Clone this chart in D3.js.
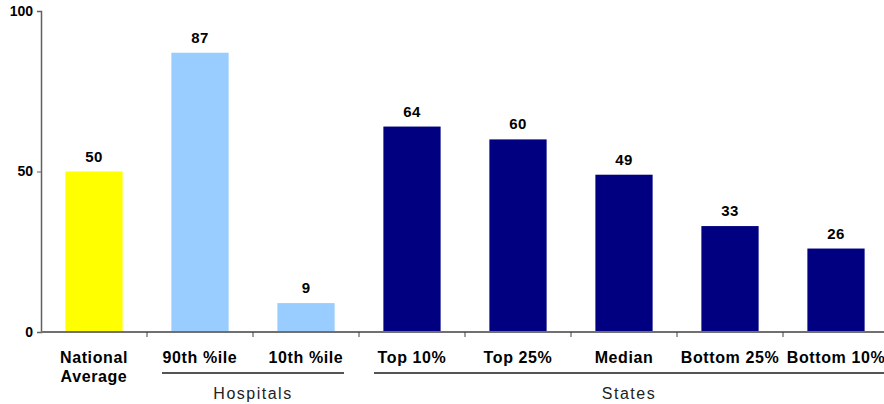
<!DOCTYPE html>
<html>
<head>
<meta charset="utf-8">
<script src="https://cdn.jsdelivr.net/npm/d3@7"></script>
<style>
  html, body { margin: 0; padding: 0; background: #fff; }
  svg { display: block; font-family: "Liberation Sans", Arial, sans-serif; }
</style>
</head>
<body>
<svg id="chart" width="884" height="404"></svg>
<script>
// Category labels (line breaks split with "\n")
const categories = ["National\nAverage", "90th %ile", "10th %ile", "Top 10%", "Top 25%", "Median", "Bottom 25%", "Bottom 10%"];
const values = [50, 87, 9, 64, 60, 49, 33, 26];
const barColors = ["#FFFF00", "#99CCFF", "#99CCFF", "#000080", "#000080", "#000080", "#000080", "#000080"];
const yTicks = [0, 50, 100];
// Groups spanning category index ranges [start, end]
const groups = [
  { label: "Hospitals", start: 1, end: 2 },
  { label: "States", start: 3, end: 7 }
];

const svg = d3.select("#chart");
const plotLeft = 41, plotRight = 889, plotTop = 11, plotBottom = 332;
const viewW = 884;

const x = d3.scaleBand().domain(d3.range(categories.length)).range([plotLeft, plotRight]).padding(0);
const y = d3.scaleLinear().domain([0, 100]).range([plotBottom, plotTop]);
const barW = x.bandwidth() * 0.54;

// Bars
svg.append("g").selectAll("rect")
  .data(values)
  .join("rect")
  .attr("x", (d, i) => x(i) + (x.bandwidth() - barW) / 2)
  .attr("y", d => y(d))
  .attr("width", barW)
  .attr("height", d => y(0) - y(d))
  .attr("fill", (d, i) => barColors[i]);

// Value labels
svg.append("g").selectAll("text")
  .data(values)
  .join("text")
  .attr("x", (d, i) => x(i) + x.bandwidth() / 2)
  .attr("y", d => y(d) - 10)
  .attr("text-anchor", "middle")
  .attr("font-size", 15)
  .attr("font-weight", "bold")
  .attr("letter-spacing", 0.4)
  .attr("fill", "#000")
  .text(d => d);

// Y axis
const yAxis = svg.append("g")
  .attr("transform", `translate(${plotLeft},0)`)
  .call(d3.axisLeft(y).tickValues(yTicks).tickSize(4).tickPadding(4));
yAxis.select(".domain").attr("stroke", "#606060").attr("stroke-width", 1.5);
yAxis.selectAll(".tick line").attr("stroke", "#606060");
yAxis.selectAll(".tick text")
  .attr("font-family", "Liberation Sans, Arial, sans-serif")
  .attr("font-size", 14).attr("font-weight", "bold").attr("fill", "#000");

// X axis line with ticks at category boundaries
svg.append("line")
  .attr("x1", plotLeft).attr("x2", plotRight)
  .attr("y1", y(0)).attr("y2", y(0))
  .attr("stroke", "#707070").attr("stroke-width", 2);
svg.append("g").selectAll("line")
  .data(d3.range(1, categories.length + 1))
  .join("line")
  .attr("x1", i => x(i - 1) + x.bandwidth())
  .attr("x2", i => x(i - 1) + x.bandwidth())
  .attr("y1", y(0)).attr("y2", y(0) + 5)
  .attr("stroke", "#404040").attr("stroke-width", 1);

// Category labels
const catLabels = svg.append("g").selectAll("text")
  .data(categories)
  .join("text")
  .attr("x", (d, i) => x(i) + x.bandwidth() / 2)
  .attr("y", 363)
  .attr("text-anchor", "middle")
  .attr("font-size", 16)
  .attr("font-weight", "bold")
  .attr("letter-spacing", 0.6)
  .attr("fill", "#000");
catLabels.each(function(d) {
  const t = d3.select(this);
  d.split("\n").forEach((line, k) => {
    t.append("tspan")
      .attr("x", t.attr("x"))
      .attr("dy", k === 0 ? 0 : 19)
      .text(line);
  });
});

// Group brackets and labels
const gStart = d => x(d.start) + 15;
const gEnd = d => d.end === categories.length - 1 ? x(d.end) + x.bandwidth() - 5 : x(d.end) + x.bandwidth() - 15;
const gg = svg.append("g").selectAll("g").data(groups).join("g");
gg.append("line")
  .attr("x1", gStart)
  .attr("x2", gEnd)
  .attr("y1", 373).attr("y2", 373)
  .attr("stroke", "#555").attr("stroke-width", 2);
gg.append("text")
  .attr("x", d => (gStart(d) + Math.min(viewW, gEnd(d))) / 2)
  .attr("y", 399)
  .attr("text-anchor", "middle")
  .attr("font-size", 16)
  .attr("letter-spacing", 1.5)
  .attr("fill", "#222")
  .text(d => d.label);
</script>
</body>
</html>
